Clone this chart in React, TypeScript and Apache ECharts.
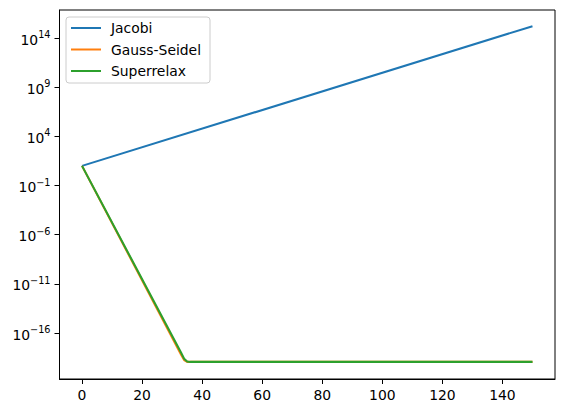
import React, { useEffect, useRef } from "react";
import * as echarts from "echarts";

const seriesNames = ["Jacobi", "Gauss-Seidel", "Superrelax"];
const colors = ["#1f77b4", "#ff7f0e", "#2ca02c"];

const jacobiIter = [0, 150];
const jacobiErr = [10, 1.6e15];

const gaussIter = [0, 33, 34, 35, 150];
const gaussErr = [10, 6.3e-19, 1.8e-19, 1.17e-19, 1.17e-19];

const sorIter = [0, 33, 34, 35, 36, 150];
const sorErr = [10, 1e-18, 2.5e-19, 1.3e-19, 1.17e-19, 1.17e-19];

const xTicks = [0, 20, 40, 60, 80, 100, 120, 140];
const yTickExponents = [-16, -11, -6, -1, 4, 9, 14];

const FONT = "DejaVu Sans";

function pairs(xs: number[], ys: number[]) {
  return xs.map((x, i) => [x, ys[i]]);
}

export default function App() {
  const ref = useRef<HTMLDivElement>(null);
  useEffect(() => {
    if (!ref.current) return;
    const chart = echarts.init(ref.current, null, { renderer: "svg" });
    const yTicks = yTickExponents.map((e) => Math.pow(10, e));
    const fmtExp = (v: number) => {
      const e = Math.round(Math.log10(v));
      const s = e < 0 ? "\u2212" + Math.abs(e) : String(e);
      return "{b|10}{e|" + s + "}";
    };
    chart.setOption({
      animation: false,
      backgroundColor: "#ffffff",
      grid: {
        left: 59.5,
        right: 10,
        top: 10,
        bottom: 34,
        show: true,
        borderColor: "#000",
        borderWidth: 1,
        backgroundColor: "transparent",
      },
      legend: {
        show: true,
        orient: "vertical",
        left: 66,
        top: 17,
        padding: [3, 9, 4, 5],
        itemGap: 5.5,
        itemWidth: 30,
        itemHeight: 2,
        icon: "rect",
        borderColor: "#cccccc",
        borderWidth: 1,
        borderRadius: 3,
        backgroundColor: "rgba(255,255,255,0.8)",
        textStyle: {
          fontFamily: FONT,
          fontSize: 13.9,
          color: "#000",
          lineHeight: 16,
          padding: [0, 0, 0, 5],
        },
        data: seriesNames,
      },
      xAxis: {
        type: "value",
        min: -7.5,
        max: 157.5,
        splitLine: { show: false },
        axisLine: { show: true, onZero: false, lineStyle: { color: "#000", width: 1 } },
        axisTick: {
          show: true,
          inside: false,
          length: 5,
          lineStyle: { color: "#000", width: 1 },
          customValues: xTicks,
        },
        axisLabel: {
          show: true,
          margin: 9,
          color: "#000",
          fontFamily: FONT,
          fontSize: 13.9,
          customValues: xTicks,
          formatter: (v: number) => String(v),
        },
      },
      yAxis: {
        type: "log",
        logBase: 10,
        min: Math.pow(10, -20.67),
        max: Math.pow(10, 16.85),
        splitLine: { show: false },
        minorTick: { show: false },
        axisLine: { show: true, onZero: false, lineStyle: { color: "#000", width: 1 } },
        axisTick: {
          show: true,
          inside: false,
          length: 5,
          lineStyle: { color: "#000", width: 1 },
          customValues: yTicks,
        },
        axisLabel: {
          show: true,
          margin: 9,
          color: "#000",
          fontFamily: FONT,
          customValues: yTicks,
          formatter: fmtExp,
          rich: {
            b: { fontFamily: FONT, fontSize: 13.9, color: "#000", verticalAlign: "bottom" },
            e: {
              fontFamily: FONT,
              fontSize: 9.7,
              color: "#000",
              verticalAlign: "bottom",
              padding: [0, 0, 7, 0],
            },
          },
        },
      },
      series: [
        {
          name: seriesNames[0],
          type: "line",
          data: pairs(jacobiIter, jacobiErr),
          showSymbol: false,
          symbol: "none",
          lineStyle: { color: colors[0], width: 2.08 },
          itemStyle: { color: colors[0] },
        },
        {
          name: seriesNames[1],
          type: "line",
          data: pairs(gaussIter, gaussErr),
          showSymbol: false,
          symbol: "none",
          lineStyle: { color: colors[1], width: 2.08 },
          itemStyle: { color: colors[1] },
        },
        {
          name: seriesNames[2],
          type: "line",
          data: pairs(sorIter, sorErr),
          showSymbol: false,
          symbol: "none",
          lineStyle: { color: colors[2], width: 2.08 },
          itemStyle: { color: colors[2] },
        },
      ],
    });
    return () => chart.dispose();
  }, []);
  return <div ref={ref} style={{ width: 565, height: 413, position: "absolute", left: 0, top: 0 }} />;
}
